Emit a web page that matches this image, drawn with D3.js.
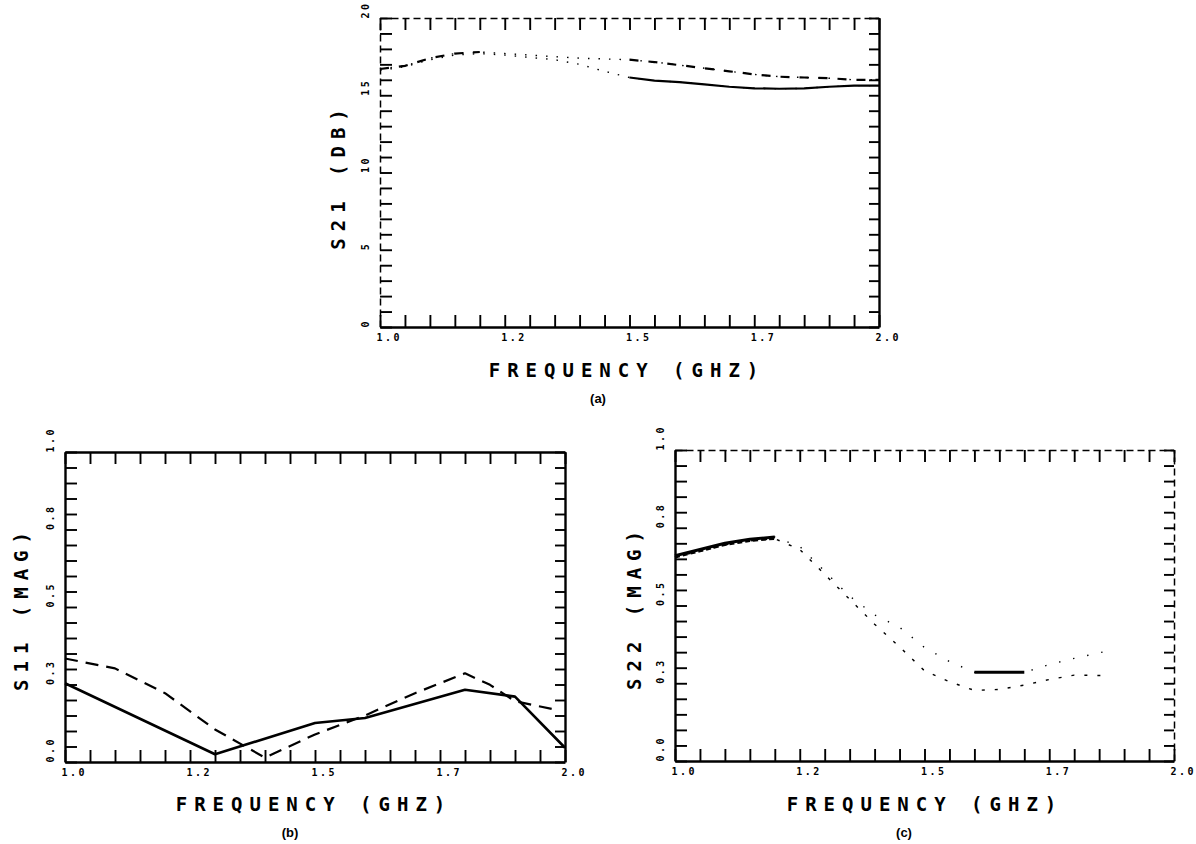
<!DOCTYPE html>
<html>
<head>
<meta charset="utf-8">
<script src="https://cdn.jsdelivr.net/npm/d3@7"></script>
<style>
body { margin: 0; background: #fff; }
text { font-family: "DejaVu Sans Mono", monospace; font-weight: bold; fill: #000; }
</style>
</head>
<body>
<svg id="fig" width="1196" height="844"></svg>
<script>
// frequency axis (GHz): minor ticks every 0.05, labels every 0.25
var freqTicks = [1.0, 1.05, 1.1, 1.15, 1.2, 1.25, 1.3, 1.35, 1.4, 1.45, 1.5,
    1.55, 1.6, 1.65, 1.7, 1.75, 1.8, 1.85, 1.9, 1.95, 2.0];
var freqLabelAt = [1.0, 1.25, 1.5, 1.75, 2.0];
var freqLabels = ["1.0", "1.2", "1.5", "1.7", "2.0"];

// magnitude axis labels (b, c)
var magLabels = ["0.0", "0.3", "0.5", "0.8", "1.0"];
// S21 dB axis labels (a)
var dbLabels = ["0", "5", "10", "15", "20"];

// (a) S21 (dB)
var s21Freq = [1.0, 1.05, 1.1, 1.15, 1.2, 1.25, 1.3, 1.35, 1.4, 1.45, 1.5,
    1.55, 1.6, 1.65, 1.7, 1.75, 1.8, 1.85, 1.9, 1.95, 2.0];
var s21Meas = [16.6, 16.85, 17.3, 17.6, 17.7, 17.6, 17.45, 17.3, 17.0, 16.55, 16.15,
    15.95, 15.85, 15.7, 15.55, 15.45, 15.42, 15.45, 15.55, 15.62, 15.62];
var s21Calc = [16.7, 16.9, 17.4, 17.7, 17.8, 17.7, 17.6, 17.5, 17.4, 17.35, 17.3,
    17.15, 16.95, 16.75, 16.55, 16.35, 16.2, 16.15, 16.1, 16.0, 16.0];

// (b) S11 (MAG)
var s11MeasFreq = [1.0, 1.3, 1.5, 1.6, 1.8, 1.9, 2.0];
var s11Meas = [0.254, 0.025, 0.126, 0.142, 0.233, 0.211, 0.046];
var s11CalcFreq = [1.0, 1.1, 1.2, 1.3, 1.4, 1.5, 1.6, 1.7, 1.8, 1.85, 1.9, 1.98];
var s11Calc = [0.334, 0.302, 0.222, 0.105, 0.014, 0.089, 0.15, 0.222, 0.286, 0.249, 0.196, 0.169];

// (c) S22 (MAG)
var s22MeasFreq = [1.0, 1.05, 1.1, 1.15, 1.2, 1.25, 1.3, 1.35, 1.4, 1.45, 1.5,
    1.55, 1.6, 1.65, 1.7, 1.75, 1.8, 1.87];
var s22Meas = [0.66, 0.68, 0.70, 0.713, 0.72, 0.69, 0.61, 0.53, 0.47, 0.43, 0.365,
    0.32, 0.285, 0.285, 0.285, 0.31, 0.33, 0.355];
var s22CalcFreq = [1.0, 1.05, 1.1, 1.15, 1.2, 1.25, 1.3, 1.35, 1.4, 1.45, 1.5,
    1.55, 1.6, 1.65, 1.7, 1.75, 1.8, 1.855];
var s22Calc = [0.655, 0.675, 0.695, 0.708, 0.715, 0.68, 0.60, 0.52, 0.44, 0.367, 0.29,
    0.255, 0.227, 0.23, 0.244, 0.262, 0.276, 0.275];

var svg = d3.select("#fig");

function drawSeries(g, x, y, fs, vs, st) {
    let pts = fs.map((f, i) => [f, vs[i]]);
    if (st.faint) {
        g.append("path").datum(pts)
            .attr("d", d3.line().x(d => x(d[0])).y(d => y(d[1])))
            .attr("fill", "none").attr("stroke", "#000")
            .attr("stroke-width", 1.4)
            .attr("stroke-dasharray", st.faint);
    }
    (st.heavy || [[1, 2]]).forEach(r => {
        let line = d3.line()
            .defined(d => d[0] >= r[0] - 1e-9 && d[0] <= r[1] + 1e-9)
            .x(d => x(d[0])).y(d => y(d[1]));
        g.append("path").datum(pts)
            .attr("d", line)
            .attr("fill", "none").attr("stroke", "#000")
            .attr("stroke-width", st.width)
            .attr("stroke-linejoin", "round")
            .attr("stroke-dasharray", st.dash || null);
    });
}

function drawPanel(p) {
    let g = svg.append("g");
    let x = d3.scaleLinear().domain([1, 2]).range([p.left, p.right]);
    let y = d3.scaleLinear().domain(p.yDomain).range([p.bottom, p.top]);
    let step = (p.yDomain[1] - p.yDomain[0]) / 20;
    let yTicks = d3.range(21).map(i => p.yDomain[0] + i * step);

    let bottom = g.append("g")
        .attr("transform", "translate(0," + p.bottom + ")")
        .call(d3.axisBottom(x).tickValues(freqTicks)
            .tickSizeInner(-12).tickSizeOuter(0).tickPadding(7)
            .tickFormat(f => {
                let i = freqLabelAt.indexOf(f);
                return i < 0 ? "" : freqLabels[i];
            }));
    bottom.selectAll(".tick text")
        .attr("text-anchor", "start").attr("dx", -4)
        .style("font-size", "10px").style("letter-spacing", "2.5px");

    let left = g.append("g")
        .attr("transform", "translate(" + p.left + ",0)")
        .call(d3.axisLeft(y).tickValues(yTicks)
            .tickSizeInner(-12).tickSizeOuter(0)
            .tickFormat((d, i) => i % 5 === 0 ? p.yLabels[i / 5] : ""));
    left.selectAll(".tick text")
        .attr("transform", "rotate(-90)")
        .attr("x", 0).attr("y", -11).attr("dy", 0)
        .attr("text-anchor", "start")
        .style("font-size", "10px").style("letter-spacing", "2.5px");

    let top = g.append("g")
        .attr("transform", "translate(0," + p.top + ")")
        .call(d3.axisTop(x).tickValues(freqTicks)
            .tickSizeInner(-12).tickSizeOuter(0).tickFormat(""));
    let right = g.append("g")
        .attr("transform", "translate(" + p.right + ",0)")
        .call(d3.axisRight(y).tickValues(yTicks)
            .tickSizeInner(-10).tickSizeOuter(0).tickFormat(""));

    [bottom, left, top, right].forEach(a => {
        a.select(".domain").attr("stroke-width", 2.4);
        a.selectAll(".tick line").attr("stroke-width", 1.9);
    });
    // worn edges of the scanned plot
    if (p.worn) {
        p.worn.forEach(k => {
            let a = {top: top, right: right, left: left}[k];
            a.select(".domain").attr("stroke-width", 1.5).attr("stroke-dasharray", "7,4");
        });
    }

    p.series.forEach(s => drawSeries(g, x, y, s.f, s.v, s.style));

    svg.append("text")
        .attr("x", p.xTitle[0]).attr("y", p.xTitle[1])
        .attr("text-anchor", "middle")
        .style("font-size", "19px").style("letter-spacing", "7px")
        .text("FREQUENCY (GHZ)");
    svg.append("text")
        .attr("transform", "translate(" + p.yTitle[0] + "," + p.yTitle[1] + ") rotate(-90)")
        .attr("text-anchor", "middle").attr("dy", "0.36em")
        .style("font-size", "19px").style("letter-spacing", "7px")
        .text(p.yName);
    svg.append("text")
        .attr("x", p.tag[0]).attr("y", p.tag[1])
        .attr("text-anchor", "middle")
        .style("font-family", "'Liberation Sans', Arial, sans-serif")
        .style("font-weight", "bold")
        .style("font-size", "13px")
        .text(p.tagText);
}

drawPanel({
    left: 380, right: 879, top: 18, bottom: 327,
    yDomain: [0, 20], yLabels: dbLabels, yName: "S21 (DB)",
    xTitle: [627, 377], yTitle: [338, 176], tag: [598, 403], tagText: "(a)",
    worn: ["top", "left"],
    series: [
        {f: s21Freq, v: s21Meas, style: {faint: "1.5,9", heavy: [[1.5, 2.0]], width: 2.2}},
        {f: s21Freq, v: s21Calc, style: {faint: "1.5,9", heavy: [[1.0, 1.2], [1.5, 2.0]], width: 2.2, dash: "9,10"}}
    ]
});

drawPanel({
    left: 65, right: 565, top: 452, bottom: 762,
    yDomain: [0, 1], yLabels: magLabels, yName: "S11 (MAG)",
    xTitle: [314, 811], yTitle: [21, 608], tag: [290, 837], tagText: "(b)",
    series: [
        {f: s11MeasFreq, v: s11Meas, style: {width: 2.6}},
        {f: s11CalcFreq, v: s11Calc, style: {width: 2.2, dash: "13,8"}}
    ]
});

drawPanel({
    left: 675, right: 1174, top: 450, bottom: 761,
    yDomain: [0, 1], yLabels: magLabels, yName: "S22 (MAG)",
    xTitle: [925, 811], yTitle: [634, 607], tag: [904, 837], tagText: "(c)",
    worn: ["top", "right"],
    series: [
        {f: s22MeasFreq, v: s22Meas, style: {faint: "1.4,13", heavy: [[1.0, 1.2], [1.6, 1.7]], width: 3}},
        {f: s22CalcFreq, v: s22Calc, style: {faint: "3,10", heavy: [[1.0, 1.2]], width: 2.4, dash: "5,3"}}
    ]
});
</script>
</body>
</html>
